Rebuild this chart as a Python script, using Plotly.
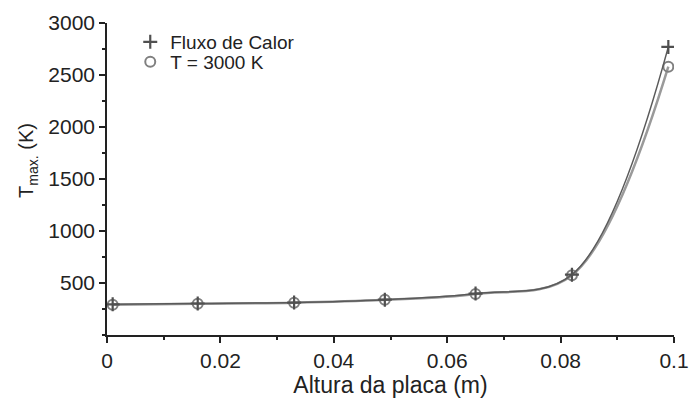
import plotly.graph_objects as go

altura = [0.001, 0.016, 0.033, 0.049, 0.065, 0.082, 0.099]
fluxo_calor = [295, 303, 312, 340, 398, 580, 2770]
t_3000 = [290, 300, 310, 338, 395, 575, 2580]

x_ticks = [0, 0.02, 0.04, 0.06, 0.08, 0.1]
x_tick_labels = ["0", "0.02", "0.04", "0.06", "0.08", "0.1"]
y_ticks = [500, 1000, 1500, 2000, 2500, 3000]

font = "Liberation Sans, Arial, sans-serif"

cross_marker = dict(symbol="cross-thin", size=10, color="#505050", line=dict(width=2.2, color="#505050"))
circle_marker = dict(symbol="circle-open", size=10, color="#808080", line=dict(width=2))

fig = go.Figure()
fig.add_trace(go.Scatter(
    x=altura, y=t_3000, name="T = 3000 K", mode="lines+markers", showlegend=False,
    line=dict(color="#9a9a9a", width=2.5, shape="spline", smoothing=1.0),
    marker=circle_marker,
))
fig.add_trace(go.Scatter(
    x=altura, y=fluxo_calor, name="Fluxo de Calor", mode="lines+markers", showlegend=False,
    line=dict(color="#5a5a5a", width=1.5, shape="spline", smoothing=1.0),
    marker=cross_marker,
))
# legend entries (markers only)
fig.add_trace(go.Scatter(x=[None], y=[None], name="Fluxo de Calor", mode="markers",
                         marker=cross_marker, legend="legend"))
fig.add_trace(go.Scatter(x=[None], y=[None], name="T = 3000 K", mode="markers",
                         marker=circle_marker, legend="legend2"))

leg_common = dict(xanchor="left", font=dict(size=19, color="#222"),
                  bgcolor="rgba(0,0,0,0)", itemwidth=30)

fig.update_layout(
    width=699, height=405,
    margin=dict(l=99, r=33, t=15, b=78),
    paper_bgcolor="white", plot_bgcolor="white",
    font=dict(family=font, size=21, color="#222"),
    showlegend=True,
    legend=dict(x=0.041, y=1.0, yanchor="top", **leg_common),
    legend2=dict(x=0.041, y=0.875, yanchor="middle", **leg_common),
    xaxis=dict(range=[0, 0.1], tickvals=x_ticks, ticktext=x_tick_labels, automargin=False,
               showgrid=False, zeroline=False, showline=True, linecolor="#222", linewidth=1.5,
               ticks="outside", ticklen=6, tickcolor="#222", tickwidth=1.5,
               minor=dict(dtick=0.01, ticks="outside", ticklen=3, tickcolor="#222"),
               title=dict(text="Altura da placa (m)", font=dict(size=23), standoff=4)),
    yaxis=dict(range=[0, 3000], tickvals=y_ticks, automargin=False,
               showgrid=False, zeroline=False, showline=True, linecolor="#222", linewidth=1.5,
               ticks="outside", ticklen=6, tickcolor="#222", tickwidth=1.5,
               minor=dict(dtick=250, ticks="outside", ticklen=3, tickcolor="#222")),
    annotations=[dict(text="T<sub>max.</sub> (K)", xref="paper", yref="paper",
                      x=-0.14, y=0.56, xanchor="center", yanchor="middle",
                      textangle=-90, showarrow=False, font=dict(size=20, color="#222"))],
)

fig.write_html("out.html")
